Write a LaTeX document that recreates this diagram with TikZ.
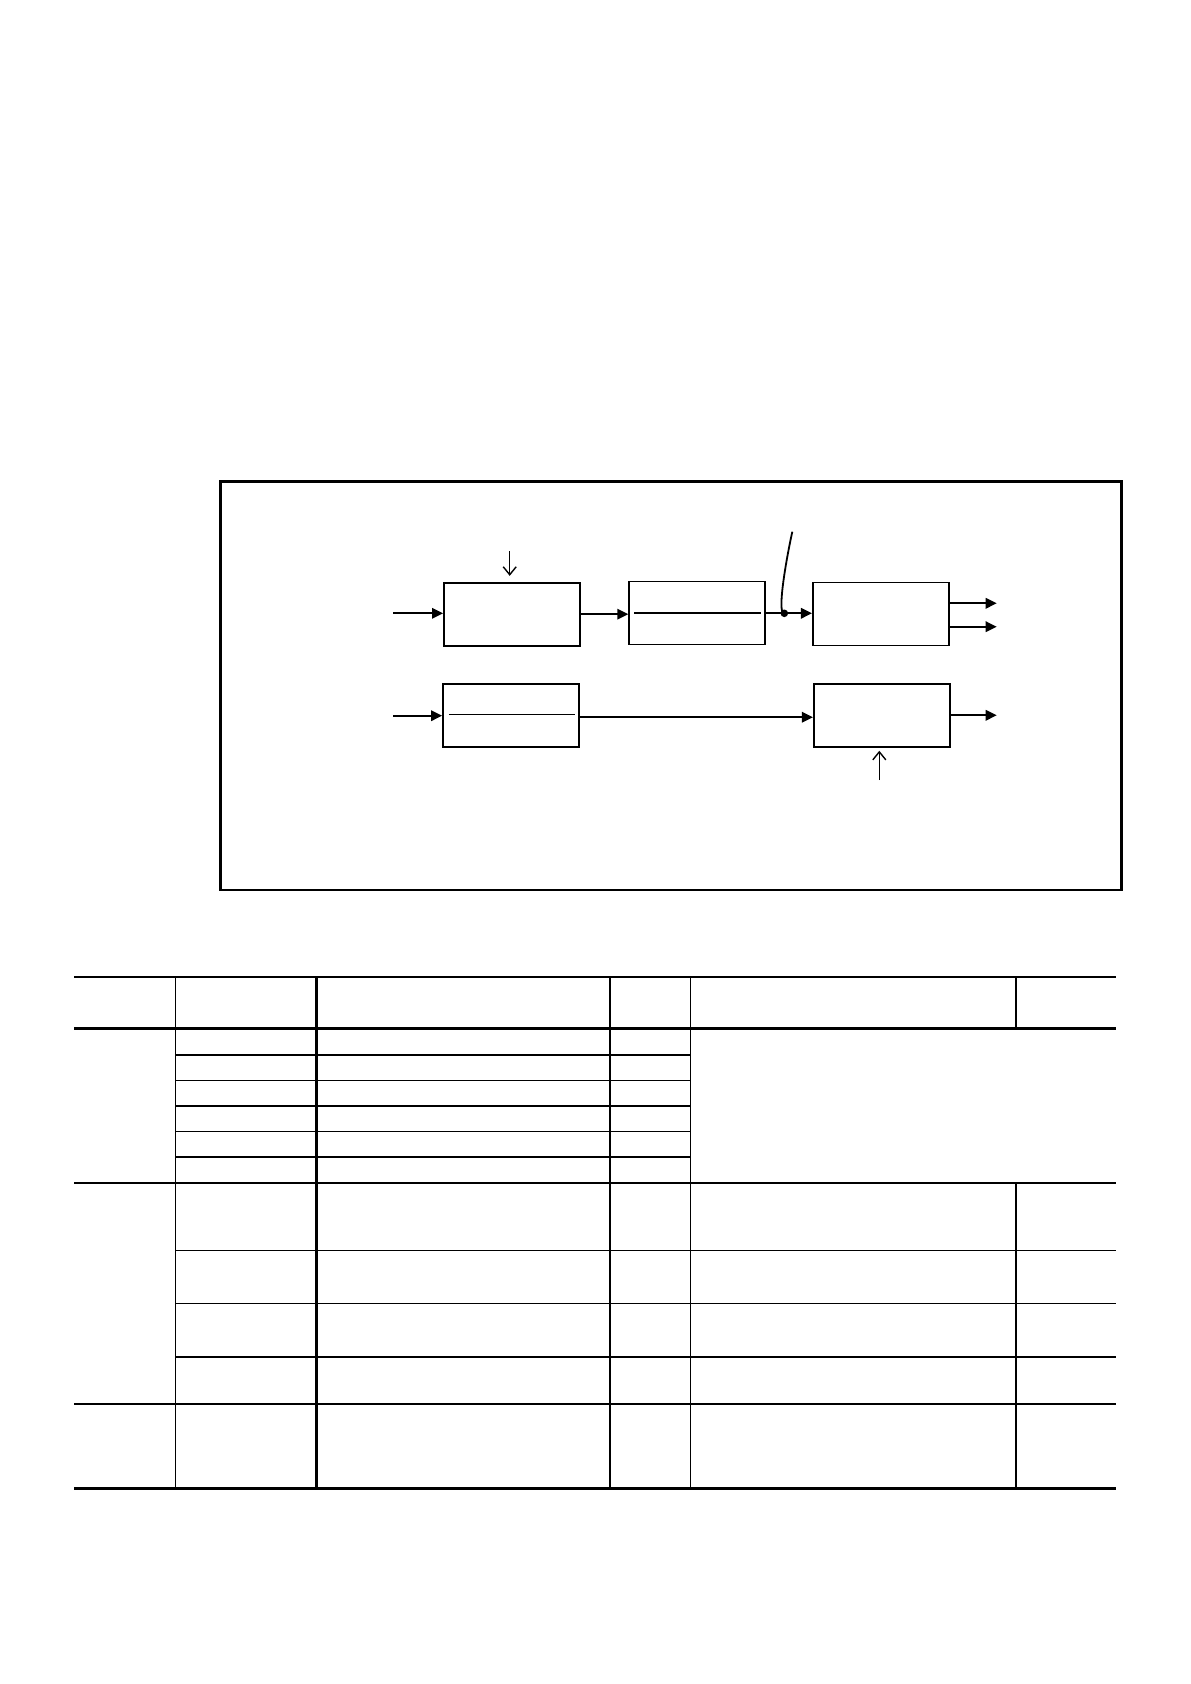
\documentclass[tikz,border=0pt]{standalone}
\usetikzlibrary{arrows.meta}
\begin{document}
\begin{tikzpicture}[x=0.5pt,y=-0.5pt,
  blk/.style={draw,line width=0.85pt,minimum width=68pt,minimum height=31.5pt,inner sep=0pt},
  flow/.style={line width=0.95pt,-{Triangle[length=5.5pt,width=5.2pt]}},
  ctrl/.style={line width=0.7pt,-{Straight Barb[length=4pt,width=6.5pt]}},
  thickrule/.style={line width=1.45pt},
  midrule/.style={line width=1pt},
  thinrule/.style={line width=0.6pt}]
\useasboundingbox (0,0) rectangle (1190,1684);
% frame
\node[draw,line width=1.45pt,minimum width=450.5pt,minimum height=204.35pt,inner sep=0pt] (frame) at (671.2,685.65) {};
% blocks
\node[blk] (A) at (512,614.2) {};
\node[blk,line width=0.65pt] (B) at (697,613.3) {};
\node[blk] (C) at (880.8,614) {};
\node[blk] (D) at (511,715.2) {};
\node[blk] (E) at (881.8,715.2) {};
\draw[line width=0.9pt] ([xshift=3pt]B.west) -- ([xshift=-2.5pt]B.east);
\draw[line width=0.55pt] ([xshift=3.3pt,yshift=0.45pt]D.west) -- ([xshift=-2.65pt,yshift=0.45pt]D.east);
% coordinates
\coordinate (in1) at (393.3,613.3);
\coordinate (in2) at (393.3,715.7);
\coordinate (J) at (784.3,613.3);
\coordinate (T) at (792.3,531.7);
\coordinate (c1) at (996.7,603.3);
\coordinate (c2) at (996.7,626.7);
\coordinate (e1) at (996.7,715.3);
\coordinate (dA) at (509.7,551);
\coordinate (uE) at (879.3,780);
% connectors
\draw[flow] (in1) -- (in1 -| A.west);
\draw[flow] (in2) -- (in2 -| D.west);
\draw[flow] (A.east) -- (A.east -| B.west);
\draw[flow] (B.east) -- (B.east -| C.west);
\fill (J) circle (1.9pt);
\draw[line width=0.9pt] (T) .. controls (785,565) and (777,615) .. (J);
\draw[flow] (c1 -| C.east) -- (c1);
\draw[flow] (c2 -| C.east) -- (c2);
\draw[flow] ([yshift=-1pt]D.east) -- ([yshift=-1pt]E.west);
\draw[flow] (e1 -| E.east) -- (e1);
\draw[ctrl,shorten >=3pt] (dA) -- (dA |- A.north);
\draw[ctrl,shorten >=1.6pt] (uE) -- (uE |- E.south);
% table: full-width rules
\draw[thickrule] (74,977) -- (1115.7,977);
\draw[thickrule] (74,1028.3) -- (1115.7,1028.3);
\draw[midrule] (74,1182.7) -- (1115.7,1182.7);
\draw[midrule] (74,1404) -- (1115.7,1404);
\draw[thickrule] (74,1488.7) -- (1115.7,1488.7);
% section 1 sub-rows
\draw[midrule] (175.3,1055) -- (690.3,1055);
\draw[thinrule] (175.3,1080.3) -- (690.3,1080.3);
\draw[midrule] (175.3,1105.7) -- (690.3,1105.7);
\draw[thinrule] (175.3,1131.3) -- (690.3,1131.3);
\draw[midrule] (175.3,1157) -- (690.3,1157);
% section 2 sub-rows
\draw[thinrule] (175.3,1250.3) -- (1115.7,1250.3);
\draw[thinrule] (175.3,1303.3) -- (1115.7,1303.3);
\draw[midrule] (175.3,1357) -- (1115.7,1357);
% verticals
\draw[thinrule] (175.3,977) -- (175.3,1488.7);
\draw[line width=1.45pt] (316.7,977) -- (316.7,1488.7);
\draw[line width=1.2pt] (610,977) -- (610,1488.7);
\draw[thinrule] (690.3,977) -- (690.3,1488.7);
\draw[line width=0.8pt] (1016,977) -- (1016,1028.3);
\draw[line width=0.8pt] (1016,1182.7) -- (1016,1488.7);
\end{tikzpicture}
\end{document}
